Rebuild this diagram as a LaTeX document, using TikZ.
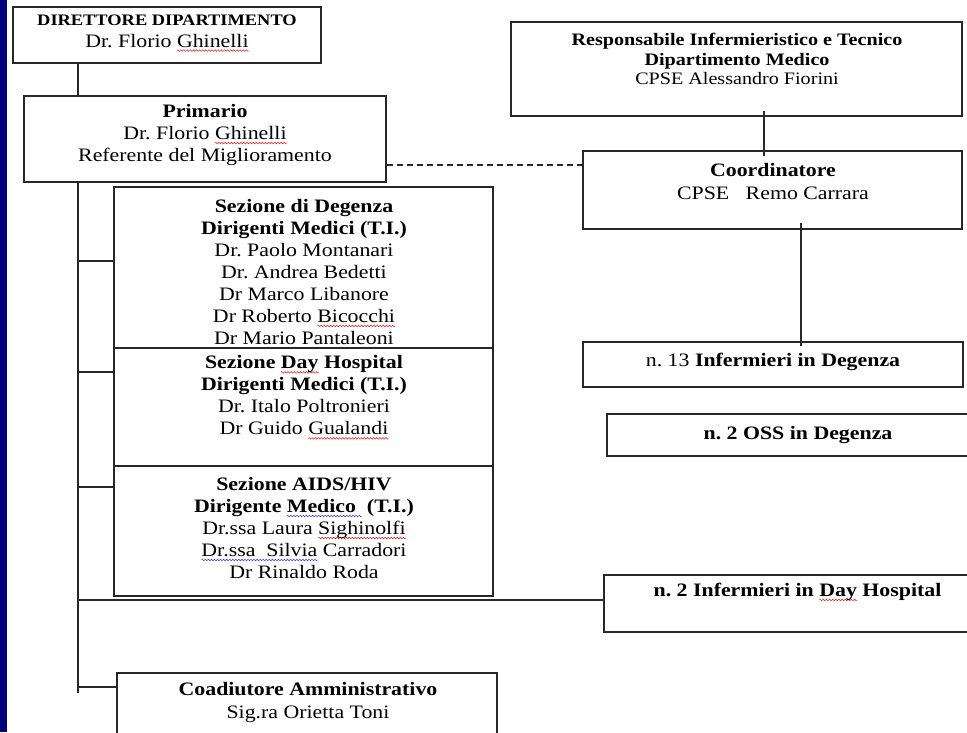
\documentclass[tikz,border=0pt]{standalone}
\usepackage{fontspec}
\setmainfont{Liberation Serif}[FakeStretch=1.15]
\usetikzlibrary{calc}

\definecolor{framenavy}{RGB}{0,0,120}
\definecolor{inkline}{RGB}{40,40,40}
\definecolor{spellred}{RGB}{235,30,30}
\definecolor{grammarblue}{RGB}{60,60,235}

% wavy proofing underlines, built from a repeated zigzag tile
\newsavebox\redwavebox
\newsavebox\bluewavebox
\newsavebox\wordbox
\sbox\redwavebox{\tikz[baseline=0pt]{\useasboundingbox (0,-1pt) rectangle (3pt,1pt);
  \draw[spellred, line width=0.55pt] (0,0) -- (0.75pt,0.8pt) -- (2.25pt,-0.8pt) -- (3pt,0);}}
\sbox\bluewavebox{\tikz[baseline=0pt]{\useasboundingbox (0,-1pt) rectangle (3pt,1pt);
  \draw[grammarblue, line width=0.55pt] (0,0) -- (0.75pt,0.8pt) -- (2.25pt,-0.8pt) -- (3pt,0);}}
\newcommand\redwave[1]{\sbox\wordbox{#1}\leavevmode\rlap{\raisebox{-3.5pt}{\hbox to \wd\wordbox{\xleaders\copy\redwavebox\hfil}}}\usebox\wordbox}
\newcommand\bluewave[1]{\sbox\wordbox{#1}\leavevmode\rlap{\raisebox{-3.5pt}{\hbox to \wd\wordbox{\xleaders\copy\bluewavebox\hfil}}}\usebox\wordbox}

\begin{document}
\frenchspacing
\begin{tikzpicture}[x=1pt, y=-1pt,
  box/.style={draw=inkline, line width=1.2pt, rectangle, inner sep=0pt},
  txt/.style={align=center, inner sep=0pt, text=black, font=\fontsize{19}{22}\selectfont},
  small/.style={txt, font=\fontsize{17.5}{19.5}\selectfont},
  link/.style={draw=inkline, line width=1.2pt}]

\fill[white] (0,0) rectangle (967,732);
\useasboundingbox (0,0) rectangle (967,732);
\clip (0,0) rectangle (967,732);
\fill[framenavy] (0,0) rectangle (7,732);

% boxes
\node[box, minimum width=308pt, minimum height=56pt] (dir) at (167,35) {};
\node[box, minimum width=362pt, minimum height=86pt] (prim) at (205,139) {};
\node[box, minimum width=379pt, minimum height=161pt] (sez1) at (303.5,267.5) {};
\node[box, minimum width=379pt, minimum height=118pt] (sez2) at (303.5,407) {};
\node[box, minimum width=379pt, minimum height=130pt] (sez3) at (303.5,531) {};
\node[box, minimum width=380pt, minimum height=77pt] (coad) at (307,711.5) {};
\node[box, minimum width=451pt, minimum height=94pt] (resp) at (736.5,69) {};
\node[box, minimum width=379pt, minimum height=78pt] (coord) at (772.5,190) {};
\node[box, minimum width=380pt, minimum height=45pt] (inf) at (773,364.5) {};
\node[box, minimum width=382pt, minimum height=42pt] (oss) at (798,435) {};
\node[box, minimum width=387pt, minimum height=57pt] (infdh) at (797.5,603.5) {};

% texts
\node[txt] (dirT) at (167,33) {{\fontsize{16}{22}\selectfont\bfseries DIRETTORE DIPARTIMENTO}\\Dr. Florio \redwave{Ghinelli}};
\node[txt] (primT) at (205,135) {\textbf{Primario}\\Dr. Florio \redwave{Ghinelli}\\Referente del Miglioramento};
\node[txt] (sez1T) at (304,272) {\textbf{Sezione di Degenza}\\\textbf{Dirigenti Medici (T.I.)}\\Dr. Paolo Montanari\\Dr. Andrea Bedetti\\Dr Marco Libanore\\Dr Roberto \redwave{Bicocchi}\\Dr Mario Pantaleoni};
\node[txt] (sez2T) at (304,397.5) {\textbf{Sezione \redwave{Day} Hospital}\\\textbf{Dirigenti Medici (T.I.)}\\Dr. Italo Poltronieri\\Dr Guido \redwave{Gualandi}};
\node[txt] (sez3T) at (304,528) {\textbf{Sezione AIDS/HIV}\\\textbf{Dirigente \bluewave{Medico\ } (T.I.)}\\Dr.ssa Laura \redwave{Sighinolfi}\\\bluewave{Dr.ssa\ \ Silvia} Carradori\\Dr Rinaldo Roda};
\node[txt, font=\fontsize{19}{23}\selectfont] (coadT) at (308,702.5) {\textbf{Coadiutore Amministrativo}\\Sig.ra Orietta Toni};
\node[small] (respT) at (737,59) {\textbf{Responsabile Infermieristico e Tecnico}\\\textbf{Dipartimento Medico}\\CPSE Alessandro Fiorini};
\node[txt, font=\fontsize{19}{23}\selectfont] (coordT) at (773,181.5) {\textbf{Coordinatore}\\CPSE\ \ \ Remo Carrara};
\node[txt] (infT) at (773,362) {n. 13 \textbf{Infermieri in Degenza}};
\node[txt] (ossT) at (798,435) {\textbf{n. 2 OSS in Degenza}};
\node[txt] (infdhT) at (797.5,592) {\textbf{n. 2 Infermieri in \redwave{Day} Hospital}};

% connector guides
\coordinate (tk) at (78,0);
\coordinate (tkend) at (78,693);
\coordinate (b1) at (78,261);
\coordinate (b2) at (78,372);
\coordinate (b3) at (78,487);
\coordinate (b4) at (78,600);
\coordinate (b5) at (78,687);
\coordinate (dl) at (0,165);
\coordinate (rx) at (764,0);
\coordinate (cx) at (801,0);

% connectors
\draw[link] (dir.south -| tk) -- (prim.north -| tk);
\draw[link] (prim.south -| tk) -- (tkend);
\draw[link] (b1) -- (b1 -| sez1.west);
\draw[link] (b2) -- (b2 -| sez2.west);
\draw[link] (b3) -- (b3 -| sez3.west);
\draw[link] (b4) -- (b4 -| infdh.west);
\draw[link] (b5) -- (b5 -| coad.west);
\draw[link, dash pattern=on 6pt off 4pt] (prim.east |- dl) -- (coord.west |- dl);
\draw[link] ($(resp.south -| rx)+(0,-6)$) -- ($(coord.north -| rx)+(0,6)$);
\draw[link] ($(coord.south -| cx)+(0,-7)$) -- ($(inf.north -| cx)+(0,5)$);
\end{tikzpicture}
\end{document}
